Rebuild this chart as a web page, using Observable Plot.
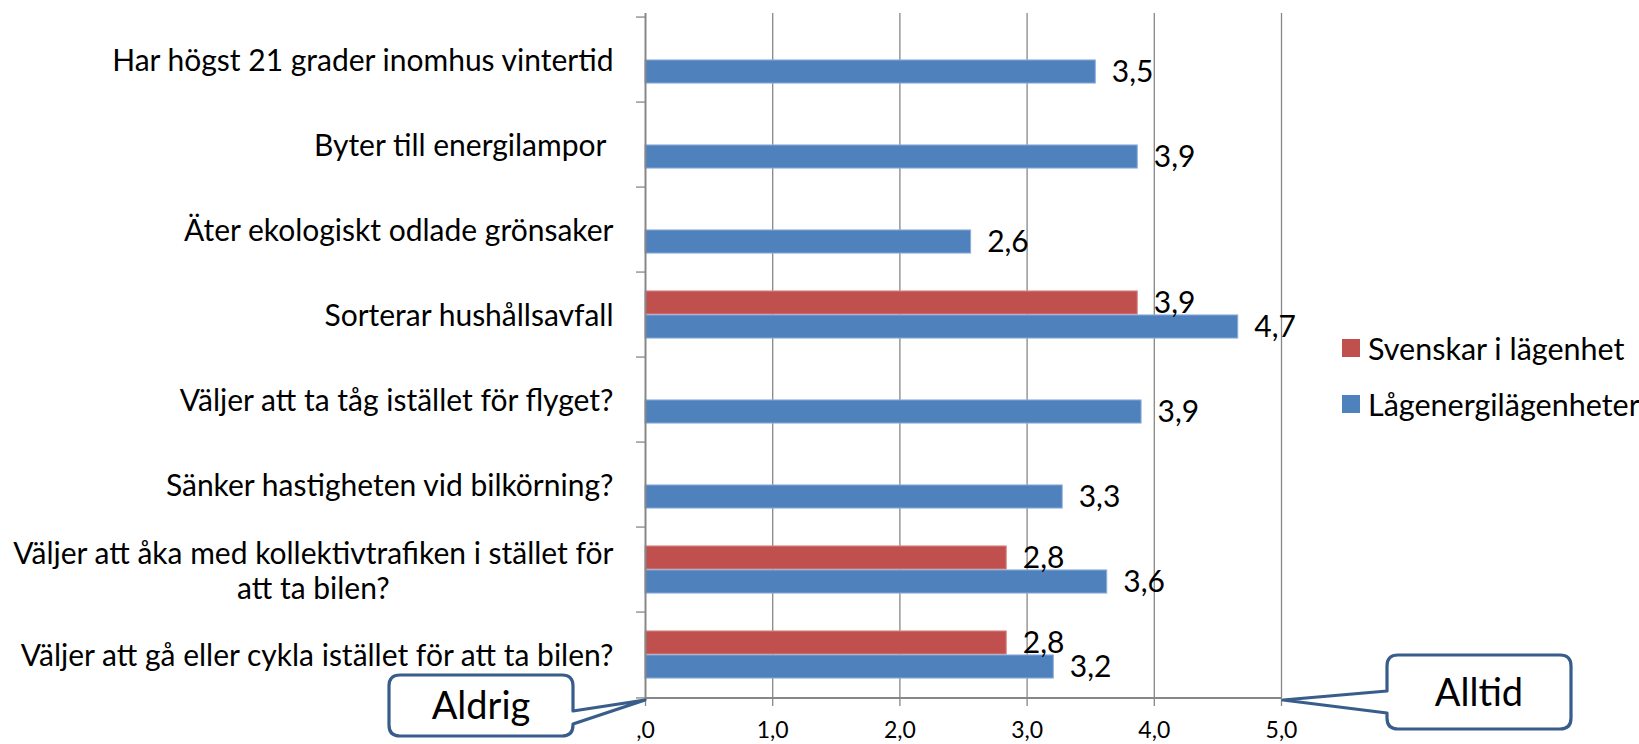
<!DOCTYPE html>
<html><head><meta charset="utf-8">
<script src="https://cdn.jsdelivr.net/npm/d3@7"></script>
<script src="https://cdn.jsdelivr.net/npm/@observablehq/plot@0.6"></script>
<style>
html,body{margin:0;padding:0;background:#fff;}
#wrap{position:relative;width:1639px;height:744px;font-family:Lato, sans-serif;overflow:hidden;}
#wrap svg{display:block;}
.legend{position:absolute;left:1342px;top:320px;font-size:30.5px;color:#000;font-family:Lato, sans-serif;}
.legend .item{display:flex;align-items:center;height:56px;white-space:nowrap;}
.legend .sw{width:18px;height:18px;margin-right:8px;flex:none;}
</style></head><body><div id="wrap"></div>
<script>
// ---- data ----
const categories = [
  "Har högst 21 grader inomhus vintertid",
  "Byter till energilampor ",
  "Äter ekologiskt odlade grönsaker",
  "Sorterar hushållsavfall",
  "Väljer att ta tåg istället för flyget?",
  "Sänker hastigheten vid bilkörning?",
  "Väljer att åka med kollektivtrafiken i stället för\natt ta bilen?",
  "Väljer att gå eller cykla istället för att ta bilen?"
];
const seriesNames = ["Svenskar i lägenhet", "Lågenergilägenheter"];
const svenskarValues = [null, null, null, 3.87, null, null, 2.84, 2.84];
const lagenergiValues = [3.54, 3.87, 2.56, 4.66, 3.90, 3.28, 3.63, 3.21];
const seriesColors = ["#C0504D", "#4F81BD"];
const xTicks = [0, 1, 2, 3, 4, 5];
const calloutLabels = ["Aldrig", "Alltid"];
const calloutValues = [0, 5];

// ---- layout ----
const W = 1639, H = 744;
const mL = 645, mR = 358, mT = 13, mB = 44;
const bw = (H - mT - mB) / categories.length;
const barH = 24;
const gray = "#878787";
const comma = v => d3.format(".1f")(v).replace(".", ",");
const tickFmt = v => v === 0 ? ",0" : comma(v);

const rows = [];
categories.forEach((c, i) => {
  if (svenskarValues[i] != null) rows.push({category: c, series: seriesNames[0], value: svenskarValues[i]});
  if (lagenergiValues[i] != null) rows.push({category: c, series: seriesNames[1], value: lagenergiValues[i]});
});
const redRows = rows.filter(d => d.series === seriesNames[0]);
const blueRows = rows.filter(d => d.series === seriesNames[1]);

const plot = Plot.plot({
  width: W, height: H,
  marginLeft: mL, marginRight: mR, marginTop: mT, marginBottom: mB,
  style: {fontFamily: "Lato, sans-serif", background: "white", overflow: "visible"},
  x: {domain: [0, 5], label: null},
  y: {domain: categories, padding: 0, label: null},
  marks: [
    Plot.gridX(xTicks.slice(1), {stroke: gray, strokeOpacity: 1, strokeWidth: 1.3}),
    Plot.barX(redRows, {x: "value", y: "category", fill: seriesColors[0],
      stroke: "#d98a88", strokeWidth: 1, insetTop: bw / 2 - barH, insetBottom: bw / 2}),
    Plot.barX(blueRows, {x: "value", y: "category", fill: seriesColors[1],
      stroke: "#8eaedb", strokeWidth: 1, insetTop: bw / 2, insetBottom: bw / 2 - barH}),
    Plot.ruleX([0], {stroke: gray, strokeWidth: 2}),
    Plot.ruleY([categories[categories.length - 1]], {dy: bw / 2, stroke: gray, strokeWidth: 2}),
    Plot.axisX(xTicks, {tickSize: 6, tickPadding: 15, tickFormat: tickFmt, fontSize: 23,
      stroke: gray, strokeWidth: 1.3, fill: "black", label: null}),
    Plot.axisY({tickSize: 9, tickFormat: () => "", dy: -bw / 2, stroke: gray, strokeWidth: 1.3, label: null}),
    Plot.axisY([categories[categories.length - 1]], {tickSize: 9, tickFormat: () => "", dy: bw / 2, stroke: gray, strokeWidth: 1.3, label: null}),
    Plot.axisY({tickSize: 0, tickPadding: 32, fontSize: 30, fill: "black", lineHeight: 1.17, label: null}),
    Plot.text(redRows, {x: "value", y: "category", text: d => comma(d.value), dx: 16,
      dy: -barH / 2, textAnchor: "start", fontSize: 30, fill: "black"}),
    Plot.text(blueRows, {x: "value", y: "category", text: d => comma(d.value), dx: 16,
      dy: barH / 2, textAnchor: "start", fontSize: 30, fill: "black"})
  ]
});

const wrap = document.getElementById("wrap");
wrap.appendChild(plot);

// center the second line of wrapped category labels (Excel style)
d3.select(plot).selectAll('g[aria-label="y-axis tick label"] text').each(function () {
  const ts = this.querySelectorAll("tspan");
  if (ts.length > 1) {
    const w1 = ts[0].getComputedTextLength();
    for (let k = 1; k < ts.length; k++) {
      const wk = ts[k].getComputedTextLength();
      ts[k].setAttribute("x", -(w1 - wk) / 2);
    }
  }
});

// callouts pointing at the axis ends
const xs = plot.scale("x");
const axisY = H - mB;
const svg = d3.select(plot);
const calloutColor = "#385D8A";
function calloutPath(x0, y0, x1, y1, r, side, pA, pB, tx, ty) {
  if (side === "right") {
    return `M${x0 + r},${y0}H${x1 - r}Q${x1},${y0} ${x1},${y0 + r}V${pA}L${tx},${ty}L${x1},${pB}V${y1 - r}Q${x1},${y1} ${x1 - r},${y1}H${x0 + r}Q${x0},${y1} ${x0},${y1 - r}V${y0 + r}Q${x0},${y0} ${x0 + r},${y0}Z`;
  }
  return `M${x0 + r},${y0}H${x1 - r}Q${x1},${y0} ${x1},${y0 + r}V${y1 - r}Q${x1},${y1} ${x1 - r},${y1}H${x0 + r}Q${x0},${y1} ${x0},${y1 - r}V${pB}L${tx},${ty}L${x0},${pA}V${y0 + r}Q${x0},${y0} ${x0 + r},${y0}Z`;
}
const boxes = [
  {x0: 389, y0: 675, x1: 573, y1: 736, side: "right", pA: 711, pB: 724},
  {x0: 1387, y0: 655, x1: 1571, y1: 729, side: "left", pA: 691, pB: 713}
];
boxes.forEach((b, i) => {
  const tx = xs.apply(calloutValues[i]) + (b.side === "left" ? 2 : 0);
  const g = svg.append("g");
  g.append("path")
    .attr("d", calloutPath(b.x0, b.y0, b.x1, b.y1, 11, b.side, b.pA, b.pB, tx, axisY))
    .attr("fill", "white").attr("stroke", calloutColor).attr("stroke-width", 3.2)
    .attr("stroke-linejoin", "round");
  g.append("text")
    .attr("x", (b.x0 + b.x1) / 2).attr("y", (b.y0 + b.y1) / 2)
    .attr("text-anchor", "middle").attr("dy", "0.36em")
    .attr("font-size", 38).attr("fill", "black").attr("font-family", "Lato, sans-serif")
    .text(calloutLabels[i]);
});

// legend
const legend = document.createElement("div");
legend.className = "legend";
seriesNames.forEach((name, i) => {
  const item = document.createElement("div");
  item.className = "item";
  const sw = document.createElement("span");
  sw.className = "sw";
  sw.style.background = seriesColors[i];
  const t = document.createElement("span");
  t.textContent = name;
  item.appendChild(sw); item.appendChild(t);
  legend.appendChild(item);
});
wrap.appendChild(legend);
</script>
</body></html>
